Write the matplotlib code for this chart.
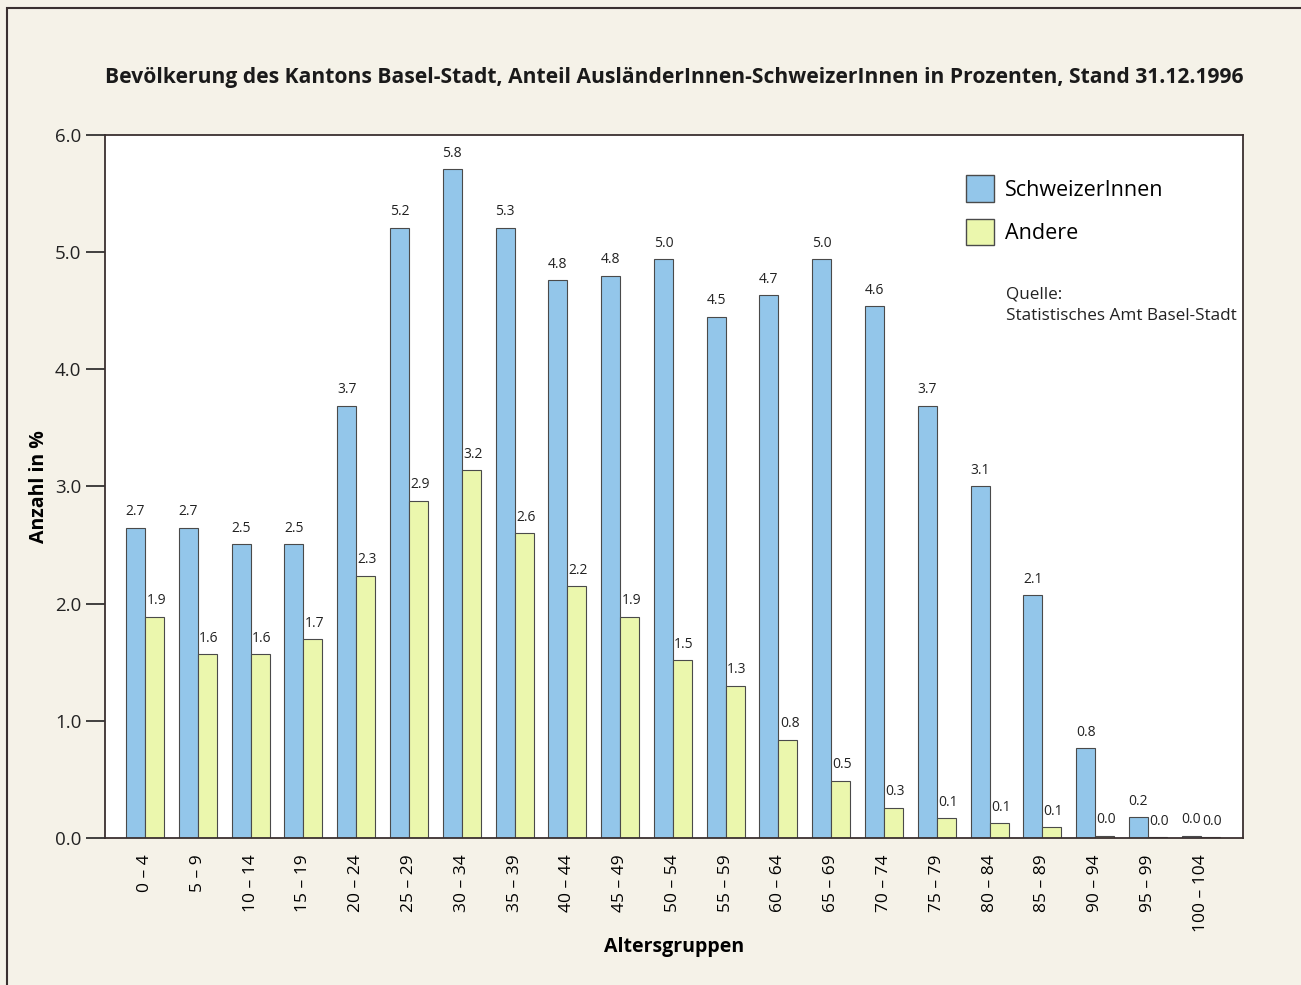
import numpy as np
import matplotlib.pyplot as plt
from matplotlib.patches import Rectangle, Patch

# Altersgruppen
gruppen = ['0 – 4', '5 – 9', '10 – 14', '15 – 19', '20 – 24', '25 – 29', '30 – 34',
           '35 – 39', '40 – 44', '45 – 49', '50 – 54', '55 – 59', '60 – 64', '65 – 69',
           '70 – 74', '75 – 79', '80 – 84', '85 – 89', '90 – 94', '95 – 99', '100 – 104']

# Balkenhoehen
schweizer = [2.65, 2.65, 2.51, 2.51, 3.69, 5.21, 5.71, 5.21, 4.76, 4.80, 4.94,
             4.45, 4.63, 4.94, 4.54, 3.69, 3.00, 2.07, 0.77, 0.18, 0.02]
andere = [1.89, 1.57, 1.57, 1.70, 2.24, 2.88, 3.14, 2.60, 2.15, 1.89, 1.52,
          1.30, 0.84, 0.49, 0.26, 0.17, 0.13, 0.09, 0.02, 0.01, 0.01]

# Beschriftungen (wie im Original gedruckt)
lab_schweizer = ['2.7', '2.7', '2.5', '2.5', '3.7', '5.2', '5.8', '5.3', '4.8', '4.8', '5.0',
                 '4.5', '4.7', '5.0', '4.6', '3.7', '3.1', '2.1', '0.8', '0.2', '0.0']
lab_andere = ['1.9', '1.6', '1.6', '1.7', '2.3', '2.9', '3.2', '2.6', '2.2', '1.9', '1.5',
              '1.3', '0.8', '0.5', '0.3', '0.1', '0.1', '0.1', '0.0', '0.0', '0.0']

plt.rcParams['font.family'] = ['Open Sans', 'DejaVu Sans']

c_blue = '#93c6ea'
c_green = '#ebf7ad'
c_edge = '#4a4a4a'
bg = '#f5f2e8'

fig = plt.figure(figsize=(13.01, 9.85), dpi=100, facecolor=bg)
fig.patches.append(Rectangle((0.0055, -0.01), 1.0, 1.002, transform=fig.transFigure,
                             fill=False, edgecolor='#3a3030', linewidth=1.5))

ax = fig.add_axes([0.0807, 0.1492, 0.8747, 0.7138])
ax.set_facecolor('white')

x = np.arange(len(gruppen))
w = 0.36
ax.bar(x - w/2, schweizer, w, color=c_blue, edgecolor=c_edge, linewidth=0.8)
ax.bar(x + w/2, andere, w, color=c_green, edgecolor=c_edge, linewidth=0.8)

for i in range(len(gruppen)):
    ax.text(x[i] - w/2, schweizer[i] + 0.07, lab_schweizer[i], ha='center', va='bottom',
            fontsize=10, color='#222222')
    ax.text(x[i] + w/2 + 0.03, andere[i] + 0.07, lab_andere[i], ha='center', va='bottom',
            fontsize=10, color='#222222')

ax.set_xlim(-0.76, 20.8)
ax.set_ylim(0, 6)
ax.set_yticks(np.arange(0, 6.1, 1.0))
ax.set_yticklabels([f'{v:.1f}' for v in np.arange(0, 6.1, 1.0)], fontsize=13.5)
ax.tick_params(axis='y', direction='out', length=14, width=1.2, colors='#222222', pad=3)
ax.set_xticks(x)
ax.set_xticklabels(gruppen, rotation=90, fontsize=12.5)
ax.tick_params(axis='x', length=0, pad=12)
for s in ax.spines.values():
    s.set_color('#3a3030')
    s.set_linewidth(1.3)

ax.set_ylabel('Anzahl in %', fontsize=14, fontweight='bold', labelpad=4)
ax.set_xlabel('Altersgruppen', fontsize=14, fontweight='bold', labelpad=3)

fig.text(0.518, 0.921,
         'Bevölkerung des Kantons Basel-Stadt, Anteil AusländerInnen-SchweizerInnen in Prozenten, Stand 31.12.1996',
         ha='center', va='center', fontsize=15.1, fontweight='bold', color='#1a1a1a')

handles = [Patch(facecolor=c_blue, edgecolor=c_edge, label='SchweizerInnen'),
           Patch(facecolor=c_green, edgecolor=c_edge, label='Andere')]
ax.legend(handles=handles, loc='upper left', bbox_to_anchor=(0.74, 0.97), frameon=False,
          fontsize=15.5, handlelength=1.3, handleheight=1.5, handletextpad=0.5, labelspacing=0.8)

ax.text(0.792, 0.785, 'Quelle:\nStatistisches Amt Basel-Stadt', transform=ax.transAxes,
        fontsize=12.3, va='top', ha='left', color='#222222', linespacing=1.45)

fig.savefig('out.png', dpi=100, facecolor=bg)
